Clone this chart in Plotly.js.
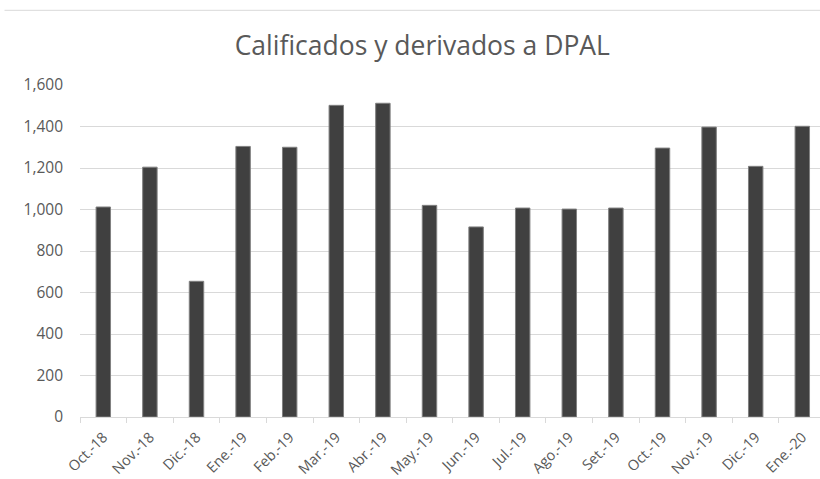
<!DOCTYPE html>
<html>
<head>
<meta charset="utf-8">
<script src="https://cdn.plot.ly/plotly-3.0.1.min.js"></script>
<style>html,body{margin:0;padding:0;background:#fff;}#chart{width:820px;height:479px;}</style>
</head>
<body>
<div id="chart"></div>
<script>
const months = ["Oct.-18","Nov.-18","Dic.-18","Ene.-19","Feb.-19","Mar.-19","Abr.-19","May.-19","Jun.-19","Jul.-19","Ago.-19","Set.-19","Oct.-19","Nov.-19","Dic.-19","Ene.-20"];
const values = [1012,1204,654,1304,1300,1502,1512,1020,916,1007,1002,1007,1296,1397,1208,1401];
const yTicks = [0,200,400,600,800,1000,1200,1400,1600];

const trace = {
  type: 'bar',
  x: months,
  y: values,
  width: 0.31,
  marker: {color: '#404040', line: {color: '#808080', width: 1}},
  hoverinfo: 'x+y'
};

const layout = {
  width: 820, height: 479,
  margin: {l: 80, r: 0, t: 85, b: 62},
  paper_bgcolor: '#ffffff', plot_bgcolor: '#ffffff',
  title: {text: 'Calificados y derivados a DPAL', x: 0.515, xanchor: 'center', y: 0.905, yanchor: 'middle',
          font: {family: 'Open Sans, sans-serif', size: 26.5, color: '#595959'}},
  showlegend: false,
  xaxis: {
    type: 'category',
    range: [-0.5, 15.38],
    tickangle: -45,
    tickfont: {family: 'Open Sans, sans-serif', size: 14.5, color: '#595959'},
    showgrid: false,
    showline: true, linecolor: '#d9d9d9', linewidth: 1,
    ticks: 'outside', tickson: 'boundaries', ticklen: 5, tickcolor: '#d9d9d9',
    ticklabelstandoff: 5,
    fixedrange: true
  },
  yaxis: {
    range: [0, 1600],
    tickvals: yTicks,
    tickformat: ',d',
    tickfont: {family: 'Open Sans, sans-serif', size: 15.5, color: '#595959'},
    showgrid: true, gridcolor: '#d9d9d9', gridwidth: 1,
    zeroline: false, showline: false, ticks: '',
    ticklabelstandoff: 16,
    fixedrange: true
  },
  shapes: [{
    type: 'line', xref: 'paper', yref: 'paper',
    x0: -0.102, x1: 1, y0: 1.225, y1: 1.225,
    line: {color: '#d9d9d9', width: 1}
  }]
};

Plotly.newPlot('chart', [trace], layout, {displayModeBar: false, staticPlot: true});
</script>
</body>
</html>
